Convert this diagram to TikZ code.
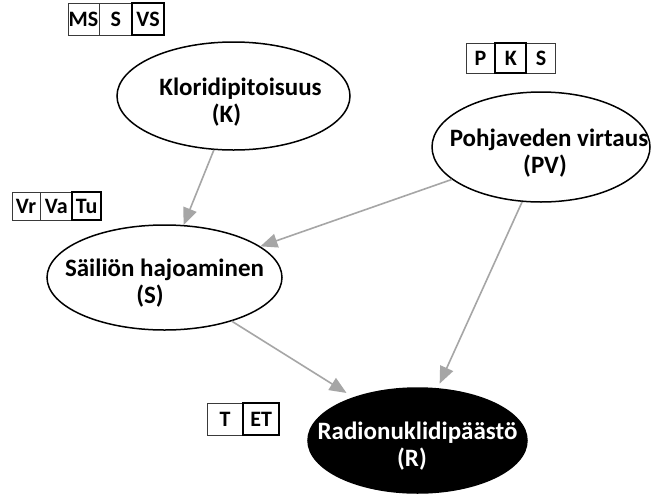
\documentclass[tikz,border=0pt]{standalone}
\usepackage{fontspec}
\setmainfont{Carlito}
\usetikzlibrary{arrows.meta,positioning,shapes.geometric}
\definecolor{edgegray}{HTML}{A6A6A6}
\definecolor{cellline}{HTML}{3A3A3A}

\begin{document}
\begin{tikzpicture}[x=1pt,y=-1pt,
  var/.style={ellipse, draw=black, line width=1.5pt, inner sep=0pt},
  vartext/.style={font=\fontsize{25}{27}\selectfont\bfseries, align=center, inner sep=0pt, yshift=-6pt},
  link/.style={draw=edgegray, line width=1.6pt, -{Triangle[length=17pt,width=14pt]}},
  cell/.style={draw=cellline, line width=0.8pt, inner sep=0pt, font=\fontsize{22}{22}\selectfont\bfseries},
  selbox/.style={draw=black, line width=2pt}]
\useasboundingbox[fill=white] (0,0) rectangle (651,493);

% variables
\node[var, minimum width=233pt, minimum height=108pt] (K) at (233.5,96) {};
\node[vartext] (Kt) at (K.center) {\hspace*{14pt}Kloridipitoisuus\\(K)\hspace*{14pt}};
\node[var, minimum width=218pt, minimum height=110pt] (PV) at (541,147) {};
\node[vartext] (PVt) at (PV.center) {\hspace*{16pt}Pohjaveden virtaus\\\hspace*{8pt}(PV)};
\node[var, minimum width=235pt, minimum height=105pt] (S) at (164.5,277.5) {};
\node[vartext] (St) at (S.center) {Säiliön hajoaminen\\(S)\hspace*{29pt}};
\node[var, fill=black, minimum width=219pt, minimum height=105pt] (R) at (417.5,440.5) {};
\node[vartext, text=white] (Rt) at (R.center) {Radionuklidipäästö\\(R)\hspace*{11pt}};

% links
\draw[link] (K.250) -- (S.70);
\draw[link] (PV.200) -- (S.18);
\draw[link, shorten >=5pt] (PV.251) -- (R.69);
\draw[link, shorten >=8pt] (S.327) -- (R.146);

% states
\node[cell, minimum width=31pt, minimum height=32pt] (ms) at (83.5,19) {MS};
\node[cell, minimum width=32pt, minimum height=32pt, right=0pt of ms] (s1) {S};
\node[cell, minimum width=31pt, minimum height=32pt, right=0pt of s1] (vs) {VS};
\draw[selbox] (vs.north west) rectangle (vs.south east);

\node[cell, minimum width=29pt, minimum height=30pt] (p) at (480.5,58) {P};
\node[cell, minimum width=30pt, minimum height=30pt, right=0pt of p] (k) {K};
\node[cell, minimum width=29pt, minimum height=30pt, right=0pt of k] (s2) {S};
\draw[selbox] (k.north west) rectangle (k.south east);

\node[cell, minimum width=28pt, minimum height=28pt] (vr) at (26,206) {Vr};
\node[cell, minimum width=31pt, minimum height=28pt, right=0pt of vr] (va) {Va};
\node[cell, minimum width=28pt, minimum height=28pt, right=0pt of va] (tu) {Tu};
\draw[selbox] (tu.north west) rectangle (tu.south east);

\node[cell, minimum width=36pt, minimum height=32pt] (t) at (225,419) {T};
\node[cell, minimum width=35pt, minimum height=32pt, right=0pt of t] (et) {ET};
\draw[selbox] (et.north west) rectangle (et.south east);
\end{tikzpicture}
\end{document}
